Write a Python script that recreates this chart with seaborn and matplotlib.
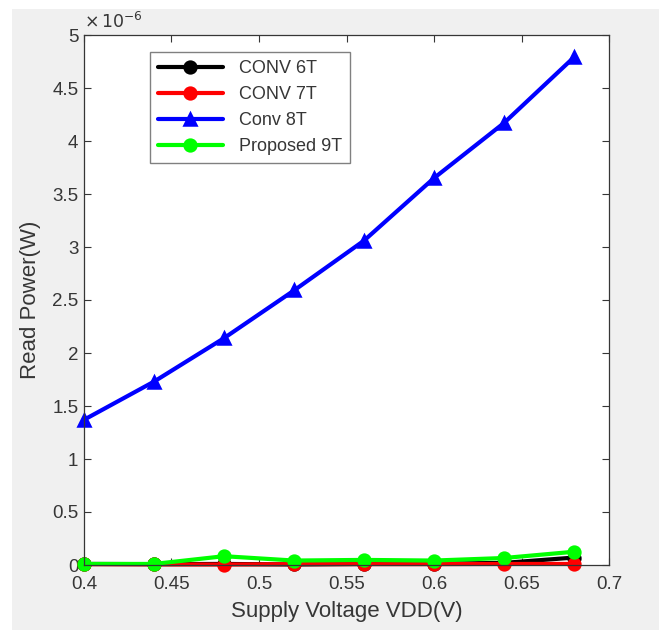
import matplotlib
matplotlib.use("Agg")
import matplotlib.pyplot as plt
from matplotlib.patches import Rectangle
from matplotlib.ticker import FuncFormatter, MultipleLocator
import seaborn as sns
import pandas as pd

# ---- data ----
vdd = [0.40, 0.44, 0.48, 0.52, 0.56, 0.60, 0.64, 0.68]
conv6t = [0.010e-6, 0.008e-6, 0.010e-6, 0.005e-6, 0.010e-6, 0.012e-6, 0.020e-6, 0.070e-6]
conv7t = [0.008e-6, 0.006e-6, 0.004e-6, 0.008e-6, 0.008e-6, 0.008e-6, 0.010e-6, 0.010e-6]
conv8t = [1.37e-6, 1.73e-6, 2.14e-6, 2.59e-6, 3.06e-6, 3.65e-6, 4.17e-6, 4.79e-6]
prop9t = [0.010e-6, 0.010e-6, 0.083e-6, 0.042e-6, 0.048e-6, 0.042e-6, 0.066e-6, 0.125e-6]
series_names = ["CONV 6T", "CONV 7T", "Conv 8T", "Proposed 9T"]
x_ticks = [0.4, 0.45, 0.5, 0.55, 0.6, 0.65, 0.7]

rows = []
for name, vals in zip(series_names, [conv6t, conv7t, conv8t, prop9t]):
    for v, p in zip(vdd, vals):
        rows.append({"VDD": v, "Power": p, "Design": name})
df = pd.DataFrame(rows)

sns.set_style("white")
plt.rcParams["font.family"] = ["Liberation Sans", "DejaVu Sans"]

fig = plt.figure(figsize=(6.59, 6.30), dpi=100)
fig.patch.set_facecolor("white")
fig.patches.append(Rectangle((12 / 659, 0), 1 - 12 / 659, 1 - 9 / 630,
                             transform=fig.transFigure, facecolor="#f0f0f0",
                             edgecolor="none", zorder=-10))

ax = fig.add_axes([84 / 659, 1 - 565 / 630, (609 - 84) / 659, (565 - 35) / 630])
ax.set_facecolor("white")

palette = {"CONV 6T": "#000000", "CONV 7T": "#ff0000",
           "Conv 8T": "#0000ff", "Proposed 9T": "#00ff00"}
markers = {"CONV 6T": "o", "CONV 7T": "o", "Conv 8T": "^", "Proposed 9T": "o"}

sns.lineplot(data=df, x="VDD", y="Power", hue="Design", style="Design",
             hue_order=series_names, style_order=series_names,
             palette=palette, markers=markers, dashes=False,
             linewidth=3.0, markersize=8.5, markeredgewidth=1.8,
             ax=ax, legend=True, clip_on=False)
for line in ax.lines:
    line.set_markeredgecolor(line.get_color())

ax.set_xlim(0.4, 0.7)
ax.set_ylim(0, 5e-6)
ax.set_xticks(x_ticks)
ax.xaxis.set_major_formatter(FuncFormatter(lambda v, _: f"{v:g}"))
ax.yaxis.set_major_locator(MultipleLocator(0.5e-6))
ax.yaxis.set_major_formatter(FuncFormatter(lambda v, _: f"{round(v * 1e6, 3):g}"))

tc = "#363636"
for s in ax.spines.values():
    s.set_color(tc)
    s.set_linewidth(0.9)
    s.set_visible(True)
ax.tick_params(direction="in", length=5, width=0.8, color=tc, labelcolor=tc,
               labelsize=13.5, top=True, right=True, bottom=True, left=True)
ax.tick_params(axis="x", pad=8)
ax.tick_params(axis="y", pad=4)

ax.set_xlabel("Supply Voltage VDD(V)", fontsize=16, color=tc, labelpad=6)
ax.set_ylabel("Read Power(W)", fontsize=16, color=tc, labelpad=8)
ax.text(0.0, 1.008, r"$\times\,10^{-6}$", transform=ax.transAxes,
        fontsize=12.5, color=tc, ha="left", va="bottom")

handles, labels = ax.get_legend_handles_labels()
leg = ax.legend(handles, labels, loc="upper left", bbox_to_anchor=(0.125, 0.968),
                fontsize=13, frameon=True, fancybox=False, edgecolor="#808080",
                framealpha=1, handlelength=3.6, handletextpad=0.9,
                labelspacing=0.5, borderpad=0.45, borderaxespad=0)
leg.get_frame().set_linewidth(1.0)
for t in leg.get_texts():
    t.set_color(tc)

fig.savefig("out.png", dpi=100, facecolor=fig.get_facecolor())
